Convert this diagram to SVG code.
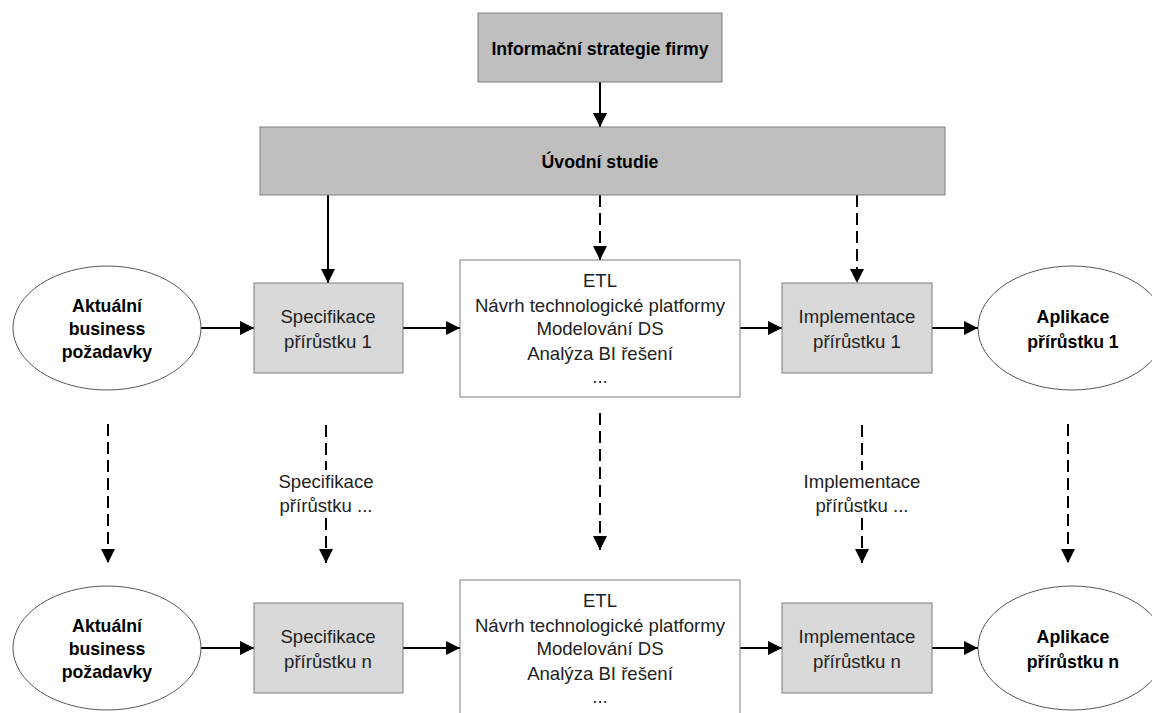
<svg xmlns="http://www.w3.org/2000/svg" width="1152" height="713" viewBox="0 0 1152 713">
  <defs>
    <marker id="arrow" markerUnits="userSpaceOnUse" markerWidth="14" markerHeight="14" viewBox="0 0 14 14" refX="14" refY="7" orient="auto">
      <path d="M0,0 L14,7 L0,14 Z" fill="#000"/>
    </marker>
    <style>
      .dark { fill: #bfbfbf; stroke: #7f7f7f; stroke-width: 1; }
      .light { fill: #d9d9d9; stroke: #7f7f7f; stroke-width: 1; }
      .plain { fill: #ffffff; stroke: #7f7f7f; stroke-width: 1; }
      .oval { fill: #ffffff; stroke: #595959; stroke-width: 1; }
      .t { font-family: "Liberation Sans", Arial, sans-serif; font-size: 18.6px; fill: #222; text-anchor: middle; }
      .b { font-family: "Liberation Sans", Arial, sans-serif; font-size: 17.7px; font-weight: bold; fill: #000; text-anchor: middle; }
      .solid { stroke: #000; stroke-width: 2; fill: none; marker-end: url(#arrow); }
      .dash { stroke: #000; stroke-width: 2; fill: none; stroke-dasharray: 12 6; marker-end: url(#arrow); }
      .dashplain { stroke: #000; stroke-width: 2; fill: none; stroke-dasharray: 12 6; }
    </style>
  </defs>

  <!-- connectors -->
  <g id="connectors">
    <line class="solid" x1="600" y1="82" x2="600" y2="127"/>
    <line class="solid" x1="328" y1="195" x2="328" y2="283"/>
    <line class="dash" x1="600" y1="195" x2="600" y2="260"/>
    <line class="dash" x1="857" y1="195" x2="857" y2="283"/>

    <!-- first increment row -->
    <line class="solid" x1="200" y1="328" x2="254" y2="328"/>
    <line class="solid" x1="403" y1="328" x2="460" y2="328"/>
    <line class="solid" x1="740" y1="328" x2="782" y2="328"/>
    <line class="solid" x1="932" y1="328" x2="978" y2="328"/>

    <!-- repetition to increment n -->
    <line class="dash" x1="108" y1="424" x2="108" y2="563"/>
    <line class="dashplain" x1="326" y1="425" x2="326" y2="470"/>
    <line class="dash" x1="326" y1="518" x2="326" y2="563"/>
    <line class="dash" x1="600" y1="413" x2="600" y2="550"/>
    <line class="dashplain" x1="862" y1="425" x2="862" y2="470"/>
    <line class="dash" x1="862" y1="518" x2="862" y2="563"/>
    <line class="dash" x1="1068" y1="424" x2="1068" y2="563"/>

    <!-- increment n row -->
    <line class="solid" x1="200" y1="648" x2="254" y2="648"/>
    <line class="solid" x1="403" y1="648" x2="460" y2="648"/>
    <line class="solid" x1="740" y1="648" x2="782" y2="648"/>
    <line class="solid" x1="932" y1="648" x2="978" y2="648"/>

    <text class="t" x="326" y="488">Specifikace</text>
    <text class="t" x="326" y="512">přírůstku ...</text>
    <text class="t" x="862" y="488">Implementace</text>
    <text class="t" x="862" y="512">přírůstku ...</text>
  </g>

  <g id="strategie">
    <rect class="dark" x="478" y="13" width="244" height="69"/>
    <text class="b" x="600" y="55">Informační strategie firmy</text>
  </g>

  <g id="uvodni-studie">
    <rect class="dark" x="260" y="127" width="685" height="68"/>
    <text class="b" x="600" y="168">Úvodní studie</text>
  </g>

  <!-- increment 1 -->
  <g id="pozadavky-1">
    <ellipse class="oval" cx="107" cy="328" rx="94" ry="62"/>
    <text class="b" x="107" y="312">Aktuální</text>
    <text class="b" x="107" y="335">business</text>
    <text class="b" x="107" y="358">požadavky</text>
  </g>

  <g id="specifikace-1">
    <rect class="light" x="254" y="283" width="149" height="90"/>
    <text class="t" x="328" y="323">Specifikace</text>
    <text class="t" x="328" y="348">přírůstku 1</text>
  </g>

  <g id="analyza-1">
    <rect class="plain" x="460" y="260" width="280" height="137"/>
    <text class="t" x="600" y="287">ETL</text>
    <text class="t" x="600" y="312">Návrh technologické platformy</text>
    <text class="t" x="600" y="335">Modelování DS</text>
    <text class="t" x="600" y="360">Analýza BI řešení</text>
    <text class="t" x="600" y="383">...</text>
  </g>

  <g id="implementace-1">
    <rect class="light" x="782" y="283" width="150" height="90"/>
    <text class="t" x="857" y="323">Implementace</text>
    <text class="t" x="857" y="348">přírůstku 1</text>
  </g>

  <g id="aplikace-1">
    <ellipse class="oval" cx="1072" cy="328" rx="94" ry="62"/>
    <text class="b" x="1073" y="323">Aplikace</text>
    <text class="b" x="1073" y="348">přírůstku 1</text>
  </g>

  <!-- increment n -->
  <g id="pozadavky-n">
    <ellipse class="oval" cx="107" cy="648" rx="94" ry="62"/>
    <text class="b" x="107" y="632">Aktuální</text>
    <text class="b" x="107" y="655">business</text>
    <text class="b" x="107" y="678">požadavky</text>
  </g>

  <g id="specifikace-n">
    <rect class="light" x="254" y="603" width="149" height="90"/>
    <text class="t" x="328" y="643">Specifikace</text>
    <text class="t" x="328" y="668">přírůstku n</text>
  </g>

  <g id="analyza-n">
    <rect class="plain" x="460" y="580" width="280" height="145"/>
    <text class="t" x="600" y="607">ETL</text>
    <text class="t" x="600" y="632">Návrh technologické platformy</text>
    <text class="t" x="600" y="655">Modelování DS</text>
    <text class="t" x="600" y="680">Analýza BI řešení</text>
    <text class="t" x="600" y="703">...</text>
  </g>

  <g id="implementace-n">
    <rect class="light" x="782" y="603" width="150" height="90"/>
    <text class="t" x="857" y="643">Implementace</text>
    <text class="t" x="857" y="668">přírůstku n</text>
  </g>

  <g id="aplikace-n">
    <ellipse class="oval" cx="1072" cy="648" rx="94" ry="62"/>
    <text class="b" x="1073" y="643">Aplikace</text>
    <text class="b" x="1073" y="668">přírůstku n</text>
  </g>
</svg>
